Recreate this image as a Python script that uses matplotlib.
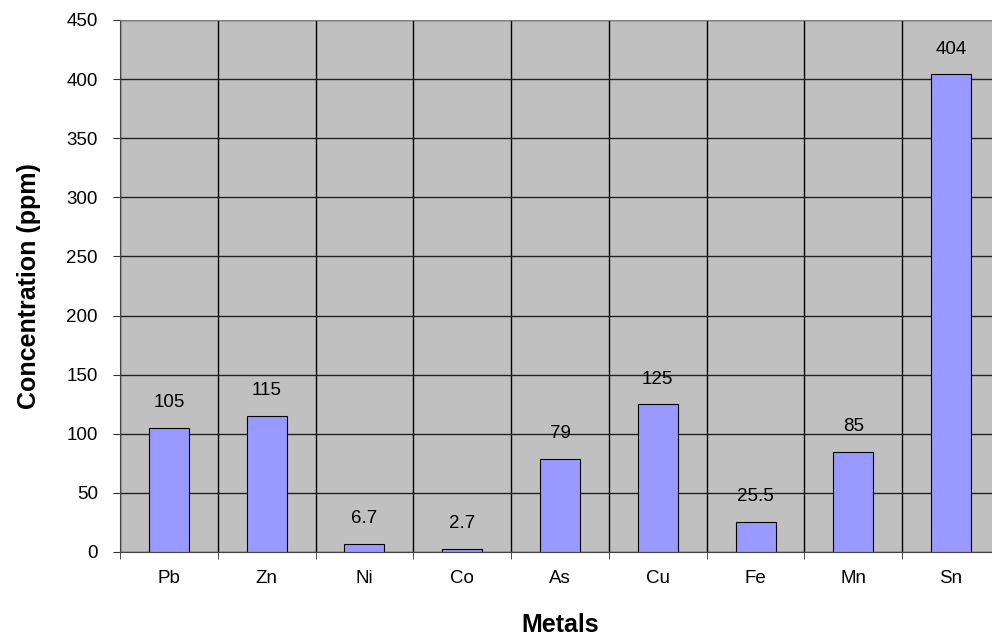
import matplotlib
matplotlib.use("Agg")
import matplotlib.pyplot as plt
import numpy as np

metals = ["Pb", "Zn", "Ni", "Co", "As", "Cu", "Fe", "Mn", "Sn"]
values = [105, 115, 6.7, 2.7, 79, 125, 25.5, 85, 404]
labels = ["105", "115", "6.7", "2.7", "79", "125", "25.5", "85", "404"]
yticks = [0, 50, 100, 150, 200, 250, 300, 350, 400, 450]

plt.rcParams['font.family'] = ['Liberation Sans', 'DejaVu Sans']
fig = plt.figure(figsize=(9.92, 6.36), dpi=100)
ax = fig.add_axes([120/992, 84/636, 880/992, 532/636])
ax.set_facecolor('#c0c0c0')
x = np.arange(len(metals))
ax.bar(x, values, width=0.41, color='#9999ff', edgecolor='black', linewidth=0.8, zorder=3)
for xi, v, l in zip(x, values, labels):
    ax.annotate(l, (xi, v), xytext=(0, 12), textcoords='offset points',
                ha='center', va='bottom', fontsize=13.5, zorder=4)
ax.set_xlim(-0.5, len(metals) - 0.5)
ax.set_ylim(0, 450)
ax.set_yticks(yticks)
ax.set_xticks(x)
ax.set_xticklabels(metals, fontsize=13.5)
ax.tick_params(axis='x', length=0, pad=13)
ax.set_xticks(np.arange(len(metals) + 1) - 0.5, minor=True)
ax.tick_params(axis='x', which='minor', length=5, color='#333333')
ax.tick_params(axis='y', labelsize=13.5, length=5, color='#333333', pad=11)
ax.grid(axis='y', color='#222222', linewidth=1, zorder=1)
ax.grid(axis='x', which='minor', color='#000000', linewidth=1, zorder=1)
for s in ['left', 'bottom']:
    ax.spines[s].set_color('#444444')
ax.spines['top'].set_color('#808080')
ax.spines['right'].set_visible(False)
ax.set_ylabel('Concentration (ppm)', fontsize=18, fontweight='bold', labelpad=18)
ax.set_xlabel('Metals', fontsize=18, fontweight='bold', labelpad=19)
fig.savefig('out.png', dpi=100)
